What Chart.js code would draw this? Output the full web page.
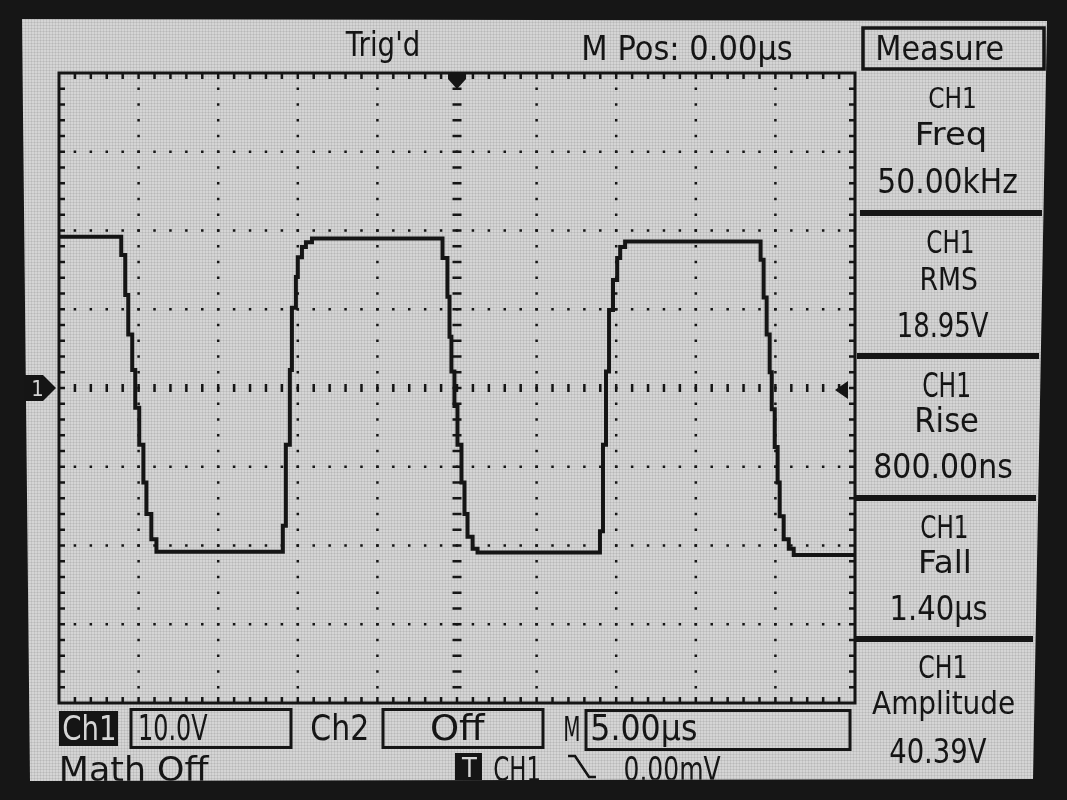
<!DOCTYPE html>
<html>
<head>
<meta charset="utf-8">
<script src="https://cdn.jsdelivr.net/npm/chart.js@4.4.0/dist/chart.umd.min.js"></script>
<style>
html,body{margin:0;padding:0;background:#151515;overflow:hidden}
canvas{display:block}
</style>
</head>
<body>
<canvas id="scope" width="1067" height="800"></canvas>
<script>
// ---------------- DATA ----------------
// CH1 trace: time in microseconds (trigger at 0), voltage in volts (step corners)
const timeUs = [
  -25.00, -21.09, -20.84, -20.65, -20.40, -20.21, -19.96, -19.70, -19.51, -19.20, -18.88,
  -10.94, -10.75, -10.50, -10.37, -10.12, -10.00, -9.74, -9.49, -9.11,
  -0.91, -0.60, -0.47, -0.35, -0.16, 0.03, 0.28, 0.47, 0.66, 0.98, 1.29,
  8.98, 9.17, 9.36, 9.55, 9.80, 10.06, 10.25, 10.56,
  19.07, 19.26, 19.45, 19.64, 19.77, 19.96, 20.14, 20.27, 20.52, 20.84, 21.15,
  25.00
];
const volts = [
  19.2, 16.9, 11.8, 6.8, 2.3, -2.5, -7.2, -12.0, -16.0, -19.2, -20.8,
  -17.5, -7.2, 2.3, 10.2, 14.1, 16.6, 17.9, 18.5, 19.0,
  16.5, 11.6, 6.5, 2.1, -2.3, -7.2, -12.0, -16.0, -18.9, -20.4, -20.9,
  -18.2, -7.2, 2.1, 9.9, 13.7, 16.5, 17.9, 18.6,
  16.3, 11.5, 6.8, 2.0, -2.7, -7.5, -12.0, -16.3, -19.2, -20.4, -21.2,
  -21.2
];
// axes: 10 divisions x 5.00 us, 8 divisions x 10.0 V
const timeMin = -25, timeMax = 25, timeDiv = 5;
const voltMin = -40, voltMax = 40, voltDiv = 10;
const minorPerDiv = 5;

// texts
const topLabels = ["Trig'd", "M Pos: 0.00\u00B5s"];
const menuTitle = "Measure";
const measureSources = ["CH1", "CH1", "CH1", "CH1", "CH1"];
const measureNames = ["Freq", "RMS", "Rise", "Fall", "Amplitude"];
const measureValues = ["50.00kHz", "18.95V", "800.00ns", "1.40\u00B5s", "40.39V"];
const statusLabels = ["Ch1", "10.0V", "Ch2", "Off", "M", "5.00\u00B5s"];
const statusLabels2 = ["Math Off", "T", "CH1", "0.00mV"];
const channelMarker = "1";

// ---------------- LAYOUT (positions / styles) ----------------
const INK = '#151515';
const LCD = '#d5d5d5';
const area = {left: 59, top: 73, right: 855, bottom: 703};
const topPos = [[345, 418, 31, 56], [584, 792, 35, 60]];
const measureBox = [863, 28, 181, 41];
const measureTitlePos = [878, 1003, 36, 60];
const panelPos = [
  [[929, 975, 87, 108], [918, 985, 122, 145], [879, 1017, 168, 193]],
  [[927, 973, 230, 253], [922, 977, 267, 290], [899, 989, 313, 337]],
  [[923, 969, 373, 397], [917, 978, 407, 432], [875, 1012, 453, 478]],
  [[921, 967, 515, 538], [921, 969, 550, 573], [892, 987, 595, 620]],
  [[919, 966, 655, 678], [872, 1014, 691, 714], [890, 987, 739, 763]]
];
const separators = [[860, 1042, 213], [857, 1039, 356], [856, 1036, 498], [854, 1033, 639]];
const statusPos = [[63, 114, 716, 740], [140, 208, 714, 740], [312, 367, 714, 740], [432, 486, 714, 740], [565, 579, 716, 741], [592, 696, 714, 740]];
const status2Pos = [[62, 210, 757, 781], [461, 477, 757, 777], [494, 539, 757, 781], [625, 721, 757, 781]];

function drawFit(c, s, x1, x2, top, base, color) {
  const cap = base - top;
  const size = cap / 0.729;
  c.font = size.toFixed(1) + 'px "DejaVu Sans"';
  c.textAlign = 'left';
  c.textBaseline = 'alphabetic';
  const m = c.measureText(s);
  const w = m.actualBoundingBoxLeft + m.actualBoundingBoxRight;
  c.save();
  c.fillStyle = color;
  c.translate(x1, base);
  c.scale((x2 - x1) / w, 1);
  c.fillText(s, m.actualBoundingBoxLeft, 0);
  c.restore();
}

function screenPath(c) {
  c.beginPath();
  c.moveTo(22, 19); c.lineTo(1047, 21); c.lineTo(1033, 779); c.lineTo(30, 781); c.closePath();
}

const scopePlugin = {
  id: 'scope',
  beforeDraw(chart) {
    const c = chart.ctx;
    c.save();
    c.fillStyle = '#161616';
    c.fillRect(0, 0, chart.width, chart.height);
    screenPath(c);
    c.fillStyle = LCD;
    c.fill();
    c.clip();
    c.fillStyle = 'rgba(0,0,0,0.07)';
    for (let x = 22; x < 1050; x += 3) c.fillRect(x, 0, 1, 800);
    for (let y = 19; y < 782; y += 3) c.fillRect(0, y, 1067, 1);
    c.restore();
  },
  beforeDatasetsDraw(chart) {
    const c = chart.ctx, xs = chart.scales.x, ys = chart.scales.y, a = chart.chartArea;
    c.save();
    c.fillStyle = INK;
    const xMinor = timeDiv / minorPerDiv, yMinor = voltDiv / minorPerDiv;
    const dot = (x, y) => c.fillRect(x - 1.25, y - 1.25, 2.5, 2.5);
    // dotted major gridlines
    for (let xv = timeMin + timeDiv; xv < timeMax - 1e-9; xv += timeDiv) {
      if (Math.abs(xv) < 1e-9) continue;
      const px = xs.getPixelForValue(xv);
      for (let yv = voltMin + yMinor; yv < voltMax - 1e-9; yv += yMinor) dot(px, ys.getPixelForValue(yv));
    }
    for (let yv = voltMin + voltDiv; yv < voltMax - 1e-9; yv += voltDiv) {
      if (Math.abs(yv) < 1e-9) continue;
      const py = ys.getPixelForValue(yv);
      for (let xv = timeMin + xMinor; xv < timeMax - 1e-9; xv += xMinor) dot(xs.getPixelForValue(xv), py);
    }
    // center cross with tick marks
    const cx = xs.getPixelForValue(0), cy = ys.getPixelForValue(0);
    for (let yv = voltMin + yMinor; yv < voltMax - 1e-9; yv += yMinor) {
      c.fillRect(cx - 4.5, ys.getPixelForValue(yv) - 1.25, 9, 2.5);
    }
    for (let xv = timeMin + xMinor; xv < timeMax - 1e-9; xv += xMinor) {
      c.fillRect(xs.getPixelForValue(xv) - 1.25, cy - 4, 2.5, 8);
    }
    // border ticks
    for (let xv = timeMin + xMinor; xv < timeMax - 1e-9; xv += xMinor) {
      const px = xs.getPixelForValue(xv);
      c.fillRect(px - 1.25, a.top, 2.5, 6);
      c.fillRect(px - 1.25, a.bottom - 6, 2.5, 6);
    }
    for (let yv = voltMin + yMinor; yv < voltMax - 1e-9; yv += yMinor) {
      const py = ys.getPixelForValue(yv);
      c.fillRect(a.left, py - 1.25, 6, 2.5);
      c.fillRect(a.right - 6, py - 1.25, 6, 2.5);
    }
    c.restore();
  },
  afterDatasetsDraw(chart) {
    const c = chart.ctx, xs = chart.scales.x, ys = chart.scales.y, a = chart.chartArea;
    c.save();
    // plot border
    c.strokeStyle = INK;
    c.lineWidth = 3;
    c.strokeRect(a.left, a.top, a.right - a.left, a.bottom - a.top);
    c.fillStyle = INK;
    // trigger position marker (top)
    const tx = xs.getPixelForValue(0);
    c.beginPath();
    c.moveTo(tx - 9, a.top + 1); c.lineTo(tx + 9, a.top + 1); c.lineTo(tx + 9, a.top + 6);
    c.lineTo(tx, a.top + 16); c.lineTo(tx - 9, a.top + 6); c.closePath(); c.fill();
    // channel 1 ground marker (left)
    const gy = ys.getPixelForValue(0);
    c.beginPath();
    c.moveTo(24, gy - 13); c.lineTo(43, gy - 13); c.lineTo(56, gy); c.lineTo(43, gy + 13); c.lineTo(24, gy + 13); c.closePath(); c.fill();
    drawFit(c, channelMarker, 33, 42, gy - 8, gy + 8, LCD);
    // trigger level marker (right)
    const ly = ys.getPixelForValue(0) + 2;
    c.beginPath();
    c.moveTo(835, ly); c.lineTo(848, ly - 9); c.lineTo(848, ly + 9); c.closePath(); c.fill();

    // clip texts to the screen
    screenPath(c);
    c.clip();
    // top texts
    topLabels.forEach((s, i) => drawFit(c, s, ...topPos[i], INK));
    // measure box
    c.lineWidth = 3.5;
    c.strokeRect(...measureBox);
    drawFit(c, menuTitle, ...measureTitlePos, INK);
    // measurement panel
    for (let i = 0; i < measureNames.length; i++) {
      drawFit(c, measureSources[i], ...panelPos[i][0], INK);
      drawFit(c, measureNames[i], ...panelPos[i][1], INK);
      drawFit(c, measureValues[i], ...panelPos[i][2], INK);
    }
    separators.forEach(([x1, x2, y]) => c.fillRect(x1, y - 3, x2 - x1, 6));
    // status bar row 1
    c.fillRect(59, 711, 59, 35);
    c.lineWidth = 3;
    c.strokeRect(131, 709.5, 160, 38);
    c.strokeRect(383, 709.5, 160, 38);
    c.strokeRect(586, 710.5, 264, 39);
    statusLabels.forEach((s, i) => drawFit(c, s, ...statusPos[i], i === 0 ? LCD : INK));
    // status bar row 2
    c.fillRect(455, 753, 27, 28);
    statusLabels2.forEach((s, i) => drawFit(c, s, ...status2Pos[i], i === 1 ? LCD : INK));
    // falling edge symbol
    c.strokeStyle = INK;
    c.lineWidth = 2.6;
    c.beginPath();
    c.moveTo(568, 756); c.lineTo(575, 756); c.lineTo(589, 777); c.lineTo(596, 777);
    c.stroke();
    c.restore();
  }
};

new Chart(document.getElementById('scope'), {
  type: 'line',
  data: {
    datasets: [{
      data: timeUs.map((t, i) => ({x: t, y: volts[i]})),
      borderColor: INK,
      borderWidth: 4,
      pointRadius: 0,
      stepped: 'before',
      fill: false,
      borderJoinStyle: 'miter',
      borderCapStyle: 'butt'
    }]
  },
  options: {
    responsive: false,
    animation: false,
    devicePixelRatio: 1,
    layout: {padding: {left: area.left, top: area.top, right: 1067 - area.right, bottom: 800 - area.bottom}},
    scales: {
      x: {type: 'linear', min: timeMin, max: timeMax, display: false},
      y: {type: 'linear', min: voltMin, max: voltMax, display: false}
    },
    plugins: {legend: {display: false}, tooltip: {enabled: false}}
  },
  plugins: [scopePlugin]
});
</script>
</body>
</html>
